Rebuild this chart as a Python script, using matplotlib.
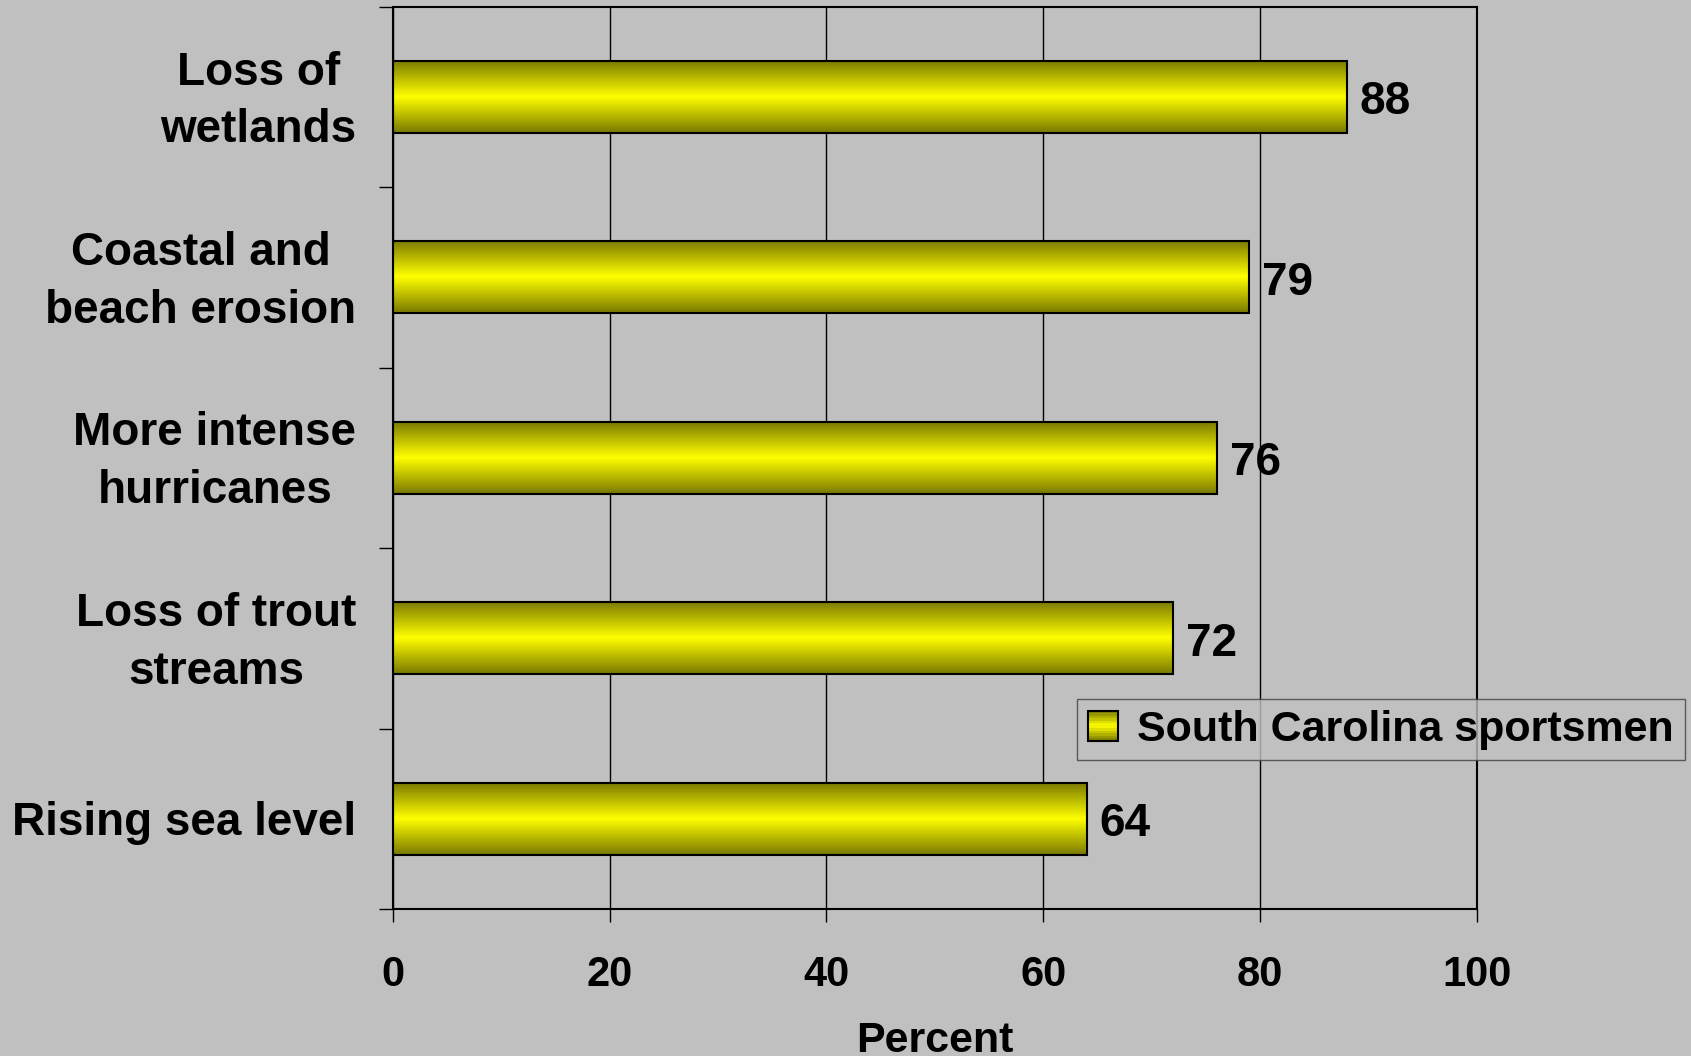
import numpy as np
import matplotlib.pyplot as plt
from matplotlib.colors import LinearSegmentedColormap
from matplotlib.patches import Rectangle
from matplotlib.legend_handler import HandlerBase

# Data (top to bottom as shown)
categories = ["Loss of\nwetlands", "Coastal and\nbeach erosion", "More intense\nhurricanes",
              "Loss of trout\nstreams", "Rising sea level"]
values = [88, 79, 76, 72, 64]
series_name = "South Carolina sportsmen"
x_ticks = [0, 20, 40, 60, 80, 100]

bg = "#C0C0C0"
plt.rcParams['font.family'] = ['Liberation Sans', 'DejaVu Sans']
plt.rcParams['font.weight'] = 'bold'

fig = plt.figure(figsize=(16.91, 10.56), dpi=100, facecolor=bg)
ax = fig.add_axes([0.2322, 0.1392, 0.6412, 0.8546], facecolor=bg)

n = len(categories)
centers = np.arange(n)[::-1] + 0.5
bar_h = 0.4

# olive -> yellow -> olive gradient for the bars
cmap = LinearSegmentedColormap.from_list("bar", ["#787800", "#FFFF00", "#787800"])
grad = np.linspace(0, 1, 256).reshape(-1, 1)

bars = ax.barh(centers, values, height=bar_h, color="none", edgecolor="black", linewidth=1.5, zorder=3)
for v, c in zip(values, centers):
    ax.imshow(grad, cmap=cmap, aspect='auto', interpolation='bilinear',
              extent=[0, v, c - bar_h / 2, c + bar_h / 2], zorder=2)
    ax.text(v + 1.2, c - 0.03, str(v), va='center', ha='left', fontsize=33, fontweight='bold')

# category labels, right aligned left of the axis
for lab, c in zip(categories, centers):
    ax.text(-0.0335, c - 0.025, lab, transform=ax.get_yaxis_transform(), ha='right', va='center',
            multialignment='center', linespacing=1.4, fontsize=33, fontweight='bold')

ax.set_xlim(0, 100)
ax.set_ylim(0, n)
ax.set_aspect('auto')

ax.set_xticks(x_ticks)
ax.set_xticklabels([str(t) for t in x_ticks], fontsize=30, fontweight='bold')
ax.tick_params(axis='x', direction='out', length=9, width=1, pad=24)
ax.xaxis.grid(True, color='black', linewidth=1)
ax.set_axisbelow(True)

ax.set_yticks(np.arange(n + 1))
ax.set_yticklabels([])
ax.tick_params(axis='y', which='major', direction='out', length=10, width=1)

for s in ax.spines.values():
    s.set_color('black')
    s.set_linewidth(1.5)

ax.set_xlabel("Percent", fontsize=31, fontweight='bold', labelpad=19)


class GradientSquare(HandlerBase):
    def create_artists(self, legend, orig_handle, xdescent, ydescent, width, height, fontsize, trans):
        k = 12
        arts = []
        for i in range(k):
            col = cmap((i + 0.5) / k)
            arts.append(Rectangle((-xdescent, -ydescent + height * i / k), width, height / k,
                                  facecolor=col, edgecolor='none', transform=trans))
        arts.append(Rectangle((-xdescent, -ydescent), width, height, facecolor='none',
                              edgecolor='black', linewidth=1.5, transform=trans))
        return arts


handle = Rectangle((0, 0), 1, 1)
leg = fig.legend([handle], [series_name], loc='center right', handler_map={Rectangle: GradientSquare()},
                 bbox_to_anchor=(0.9962, 0.309), borderaxespad=0, fontsize=31, frameon=True,
                 fancybox=False, handlelength=0.7, handleheight=0.7, handletextpad=0.45, borderpad=0.25)
leg.get_frame().set_facecolor(bg)
leg.get_frame().set_edgecolor('#404040')
leg.get_frame().set_linewidth(1)

fig.savefig("out.png", dpi=100, facecolor=bg)
